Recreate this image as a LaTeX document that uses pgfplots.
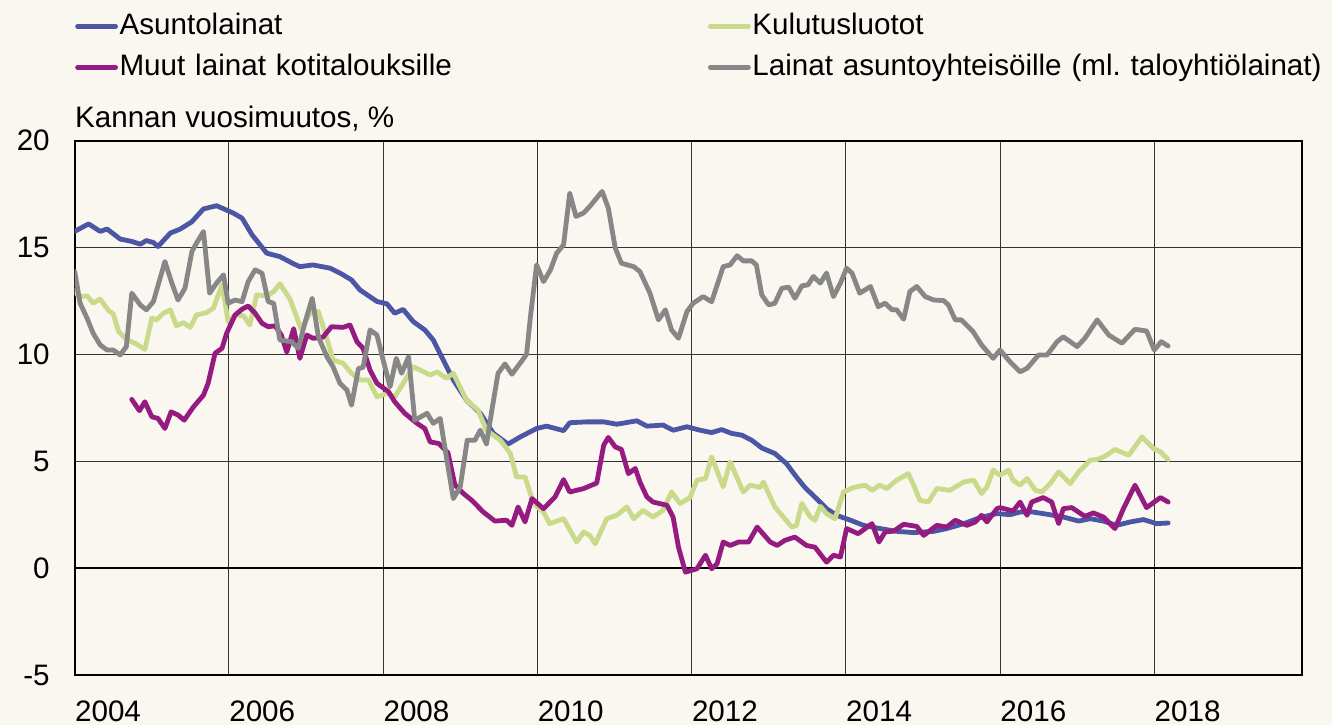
\documentclass[border=0pt]{standalone}
\usepackage{fontspec}
\setmainfont{Liberation Sans}
\usepackage{pgfplots}
\pgfplotsset{compat=1.18}

\definecolor{bg}{RGB}{250,246,240}
\definecolor{cblue}{RGB}{75,86,165}
\definecolor{cgreen}{RGB}{201,218,139}
\definecolor{cpurple}{RGB}{149,27,129}
\definecolor{cgray}{RGB}{135,135,135}
\newcommand{\lfont}{\fontsize{14.8}{17.8}\selectfont}

\begin{document}
\begin{tikzpicture}
\useasboundingbox[fill=bg] (-37.35pt,-25pt) rectangle (628.65pt,337.5pt);
\begin{axis}[
  at={(0,0)}, anchor=south west,
  scale only axis, width=613.8pt, height=267.25pt,
  xmin=2004, xmax=2019.92, ymin=-5, ymax=20,
  xtick={2004,2006,...,2018},
  xticklabels={2004,2006,2008,2010,2012,2014,2016,2018},
  ytick={-5,0,...,20},
  yticklabels={-5,0,5,10,15,20},
  major tick length=0pt,
  grid=major,
  grid style={black!80, line width=0.5pt},
  axis line style={black, line width=1pt},
  xticklabel style={font=\lfont, anchor=north west, inner sep=0pt, yshift=-12.5pt},
  yticklabel style={font=\lfont, anchor=east, inner sep=0pt, xshift=-12.3pt},
  extra y ticks={0}, extra y tick labels={},
  extra y tick style={grid style={black, line width=0.9pt}},
  every axis plot/.append style={line width=2.4pt, line join=round, line cap=round},
  legend columns=2,
  legend cell align=left,
  legend image code/.code={\draw[#1] (0pt,0pt) -- (19pt,0pt);},
  legend style={at={(0.0004,1.240)}, anchor=north west, draw=none, fill=none,
    inner sep=0pt, outer sep=0pt,
    font=\lfont, row sep=6.5pt,
    nodes={inner sep=0pt, text height=11pt, text depth=3pt},
    /tikz/every odd column/.append style={column sep=0.8pt},
    /tikz/every even column/.append style={text width=294.2pt, align=left}},
]
\addplot[cblue] table {
2004.00 15.75
2004.18 16.10
2004.33 15.75
2004.42 15.86
2004.59 15.39
2004.74 15.28
2004.85 15.15
2004.93 15.32
2005.02 15.23
2005.08 15.04
2005.24 15.67
2005.37 15.86
2005.52 16.20
2005.67 16.80
2005.84 16.95
2006.06 16.60
2006.17 16.37
2006.30 15.59
2006.49 14.73
2006.66 14.57
2006.84 14.23
2006.92 14.10
2007.09 14.18
2007.31 14.03
2007.44 13.80
2007.59 13.48
2007.70 13.01
2007.92 12.47
2008.05 12.36
2008.15 11.92
2008.26 12.10
2008.39 11.53
2008.54 11.14
2008.65 10.67
2008.78 9.73
2008.91 8.80
2009.08 7.86
2009.26 7.24
2009.43 6.30
2009.62 5.80
2009.78 6.14
2009.99 6.53
2010.12 6.64
2010.34 6.43
2010.42 6.80
2010.64 6.84
2010.86 6.84
2011.03 6.73
2011.29 6.89
2011.42 6.64
2011.63 6.69
2011.76 6.45
2011.94 6.61
2012.11 6.45
2012.26 6.34
2012.39 6.48
2012.52 6.30
2012.65 6.22
2012.78 5.98
2012.91 5.62
2013.08 5.36
2013.23 4.89
2013.36 4.26
2013.47 3.77
2013.62 3.25
2013.75 2.78
2013.88 2.47
2014.06 2.24
2014.23 2.00
2014.44 1.85
2014.66 1.72
2014.88 1.66
2015.14 1.72
2015.31 1.85
2015.53 2.08
2015.74 2.36
2015.96 2.55
2016.13 2.50
2016.26 2.62
2016.43 2.62
2016.61 2.52
2016.82 2.39
2017.02 2.20
2017.17 2.31
2017.34 2.20
2017.51 2.00
2017.69 2.16
2017.86 2.27
2018.03 2.08
2018.18 2.11
};
\addlegendentry{Asuntolainat}
\addplot[cgreen] table {
2004.00 13.01
2004.05 12.70
2004.16 12.73
2004.24 12.39
2004.33 12.58
2004.44 12.04
2004.50 11.89
2004.57 11.06
2004.67 10.70
2004.80 10.48
2004.91 10.23
2005.00 11.69
2005.06 11.61
2005.15 11.92
2005.24 12.08
2005.32 11.33
2005.41 11.48
2005.50 11.26
2005.58 11.84
2005.71 11.95
2005.80 12.16
2005.91 13.25
2005.99 11.53
2006.08 11.84
2006.19 11.80
2006.27 11.37
2006.36 12.78
2006.49 12.73
2006.58 12.93
2006.66 13.30
2006.79 12.60
2006.94 11.14
2007.05 11.92
2007.16 12.00
2007.25 10.98
2007.35 9.73
2007.48 9.58
2007.59 9.11
2007.70 8.80
2007.81 8.80
2007.92 8.01
2008.05 8.17
2008.15 8.01
2008.26 8.64
2008.39 9.42
2008.48 9.26
2008.61 9.03
2008.70 9.18
2008.82 8.88
2008.91 9.11
2009.08 7.86
2009.23 7.39
2009.34 6.45
2009.52 5.98
2009.65 5.36
2009.73 4.26
2009.84 4.26
2009.95 3.02
2010.08 2.62
2010.16 2.08
2010.34 2.31
2010.51 1.22
2010.60 1.69
2010.68 1.53
2010.75 1.14
2010.90 2.31
2011.03 2.47
2011.16 2.86
2011.25 2.31
2011.37 2.70
2011.50 2.39
2011.63 2.70
2011.74 3.56
2011.85 3.02
2011.98 3.30
2012.07 4.11
2012.18 4.19
2012.26 5.20
2012.41 3.80
2012.50 4.97
2012.67 3.56
2012.76 3.88
2012.89 3.77
2012.93 4.03
2013.08 2.86
2013.19 2.39
2013.30 1.92
2013.36 2.00
2013.43 3.02
2013.54 2.39
2013.60 2.24
2013.67 2.89
2013.75 2.55
2013.86 2.31
2013.97 3.56
2014.10 3.77
2014.25 3.88
2014.34 3.64
2014.44 3.88
2014.53 3.72
2014.66 4.11
2014.81 4.42
2014.88 3.88
2014.96 3.17
2015.07 3.09
2015.18 3.72
2015.35 3.64
2015.53 4.03
2015.66 4.11
2015.76 3.49
2015.83 3.80
2015.91 4.58
2016.00 4.34
2016.11 4.58
2016.17 4.11
2016.26 3.88
2016.35 4.19
2016.46 3.64
2016.54 3.56
2016.65 3.95
2016.76 4.50
2016.91 3.95
2017.02 4.50
2017.17 5.05
2017.26 5.08
2017.36 5.23
2017.49 5.55
2017.67 5.28
2017.84 6.14
2017.99 5.59
2018.08 5.44
2018.18 5.08
};
\addlegendentry{Kulutusluotot}
\addplot[cpurple] table {
2004.74 7.89
2004.84 7.36
2004.91 7.78
2005.00 7.08
2005.08 7.00
2005.17 6.53
2005.25 7.31
2005.34 7.16
2005.42 6.92
2005.54 7.54
2005.67 8.09
2005.73 8.64
2005.82 10.05
2005.91 10.28
2005.97 10.98
2006.08 11.84
2006.17 12.11
2006.25 12.26
2006.34 11.92
2006.43 11.45
2006.51 11.29
2006.60 11.33
2006.68 10.90
2006.75 10.10
2006.84 11.20
2006.92 9.81
2007.01 10.90
2007.09 10.75
2007.22 10.80
2007.33 11.29
2007.48 11.26
2007.57 11.37
2007.66 10.59
2007.74 10.28
2007.83 9.26
2007.92 8.64
2008.07 8.25
2008.15 7.78
2008.28 7.24
2008.44 6.77
2008.54 6.53
2008.61 5.90
2008.72 5.83
2008.84 5.40
2008.93 3.90
2009.04 3.49
2009.15 3.17
2009.30 2.62
2009.45 2.20
2009.60 2.24
2009.67 2.00
2009.75 2.86
2009.84 2.16
2009.93 3.25
2010.08 2.78
2010.23 3.33
2010.34 4.14
2010.42 3.56
2010.60 3.72
2010.77 3.98
2010.86 5.75
2010.92 6.11
2011.01 5.67
2011.09 5.55
2011.18 4.42
2011.27 4.66
2011.33 4.03
2011.42 3.33
2011.50 3.09
2011.68 2.94
2011.76 2.39
2011.83 0.98
2011.92 -0.19
2012.07 -0.03
2012.18 0.60
2012.26 -0.03
2012.33 0.20
2012.41 1.22
2012.50 1.06
2012.61 1.22
2012.74 1.22
2012.85 1.92
2013.02 1.22
2013.11 1.06
2013.21 1.30
2013.34 1.45
2013.49 1.06
2013.60 0.98
2013.75 0.28
2013.84 0.60
2013.93 0.52
2014.01 1.85
2014.16 1.61
2014.34 2.08
2014.43 1.22
2014.51 1.69
2014.62 1.73
2014.75 2.05
2014.92 1.95
2015.01 1.53
2015.18 2.00
2015.31 1.92
2015.42 2.24
2015.57 2.00
2015.68 2.16
2015.76 2.47
2015.83 2.16
2015.96 2.78
2016.00 2.83
2016.17 2.67
2016.26 3.09
2016.35 2.47
2016.41 3.09
2016.56 3.30
2016.67 3.09
2016.76 2.08
2016.82 2.78
2016.93 2.83
2017.10 2.42
2017.21 2.58
2017.34 2.39
2017.49 1.85
2017.60 2.78
2017.75 3.88
2017.90 2.83
2018.08 3.30
2018.18 3.09
};
\addlegendentry{Muut lainat kotitalouksille}
\addplot[cgray] table {
2004.00 13.87
2004.07 12.39
2004.16 11.69
2004.24 10.98
2004.33 10.44
2004.42 10.20
2004.50 10.20
2004.59 9.97
2004.67 10.36
2004.74 12.86
2004.85 12.31
2004.93 12.08
2005.02 12.46
2005.17 14.34
2005.26 13.33
2005.34 12.54
2005.43 13.09
2005.52 14.81
2005.58 15.20
2005.67 15.74
2005.75 12.86
2005.84 13.33
2005.93 13.72
2005.99 12.39
2006.08 12.54
2006.17 12.46
2006.25 13.40
2006.34 13.95
2006.43 13.79
2006.51 12.46
2006.58 12.39
2006.66 10.67
2006.81 10.59
2006.90 10.28
2006.99 11.53
2007.08 12.62
2007.16 10.82
2007.27 9.89
2007.35 9.42
2007.44 8.64
2007.53 8.33
2007.59 7.62
2007.68 9.34
2007.74 9.39
2007.83 11.14
2007.92 10.90
2008.00 9.73
2008.09 8.48
2008.17 9.81
2008.24 9.11
2008.33 9.89
2008.41 6.92
2008.57 7.24
2008.65 6.77
2008.74 7.00
2008.82 5.20
2008.91 3.25
2009.00 3.80
2009.09 5.98
2009.19 5.98
2009.26 6.45
2009.34 5.80
2009.41 7.39
2009.49 9.11
2009.58 9.55
2009.67 9.07
2009.78 9.60
2009.86 10.00
2009.91 11.76
2009.99 14.18
2010.08 13.40
2010.17 13.95
2010.25 14.73
2010.34 15.12
2010.42 17.54
2010.50 16.45
2010.60 16.61
2010.68 16.92
2010.84 17.62
2010.92 16.84
2011.01 14.97
2011.09 14.26
2011.25 14.10
2011.33 13.87
2011.46 12.86
2011.57 11.61
2011.66 12.08
2011.74 11.14
2011.83 10.75
2011.94 12.00
2012.02 12.39
2012.15 12.70
2012.26 12.46
2012.41 14.10
2012.50 14.18
2012.59 14.61
2012.67 14.37
2012.78 14.37
2012.84 14.18
2012.91 12.78
2013.00 12.31
2013.08 12.39
2013.17 13.09
2013.26 13.14
2013.34 12.62
2013.43 13.20
2013.51 13.25
2013.58 13.64
2013.67 13.33
2013.75 13.80
2013.84 12.70
2013.93 13.33
2014.01 14.03
2014.08 13.80
2014.18 12.86
2014.32 13.17
2014.42 12.23
2014.51 12.39
2014.60 12.08
2014.66 12.08
2014.75 11.64
2014.83 12.93
2014.92 13.17
2015.03 12.70
2015.14 12.54
2015.27 12.51
2015.33 12.31
2015.42 11.61
2015.50 11.61
2015.65 11.06
2015.76 10.44
2015.91 9.81
2016.00 10.20
2016.13 9.65
2016.26 9.18
2016.35 9.34
2016.50 9.97
2016.61 9.97
2016.74 10.59
2016.82 10.82
2017.00 10.36
2017.10 10.75
2017.26 11.61
2017.41 10.90
2017.58 10.52
2017.75 11.17
2017.90 11.09
2018.00 10.20
2018.09 10.59
2018.18 10.39
};
\addlegendentry{Lainat asuntoyhteisöille (ml.\ taloyhtiölainat)}
\end{axis}
\node[anchor=base west, inner sep=0pt, font=\lfont] at (0pt,273.75pt) {Kannan vuosimuutos, \%};
\end{tikzpicture}
\end{document}
